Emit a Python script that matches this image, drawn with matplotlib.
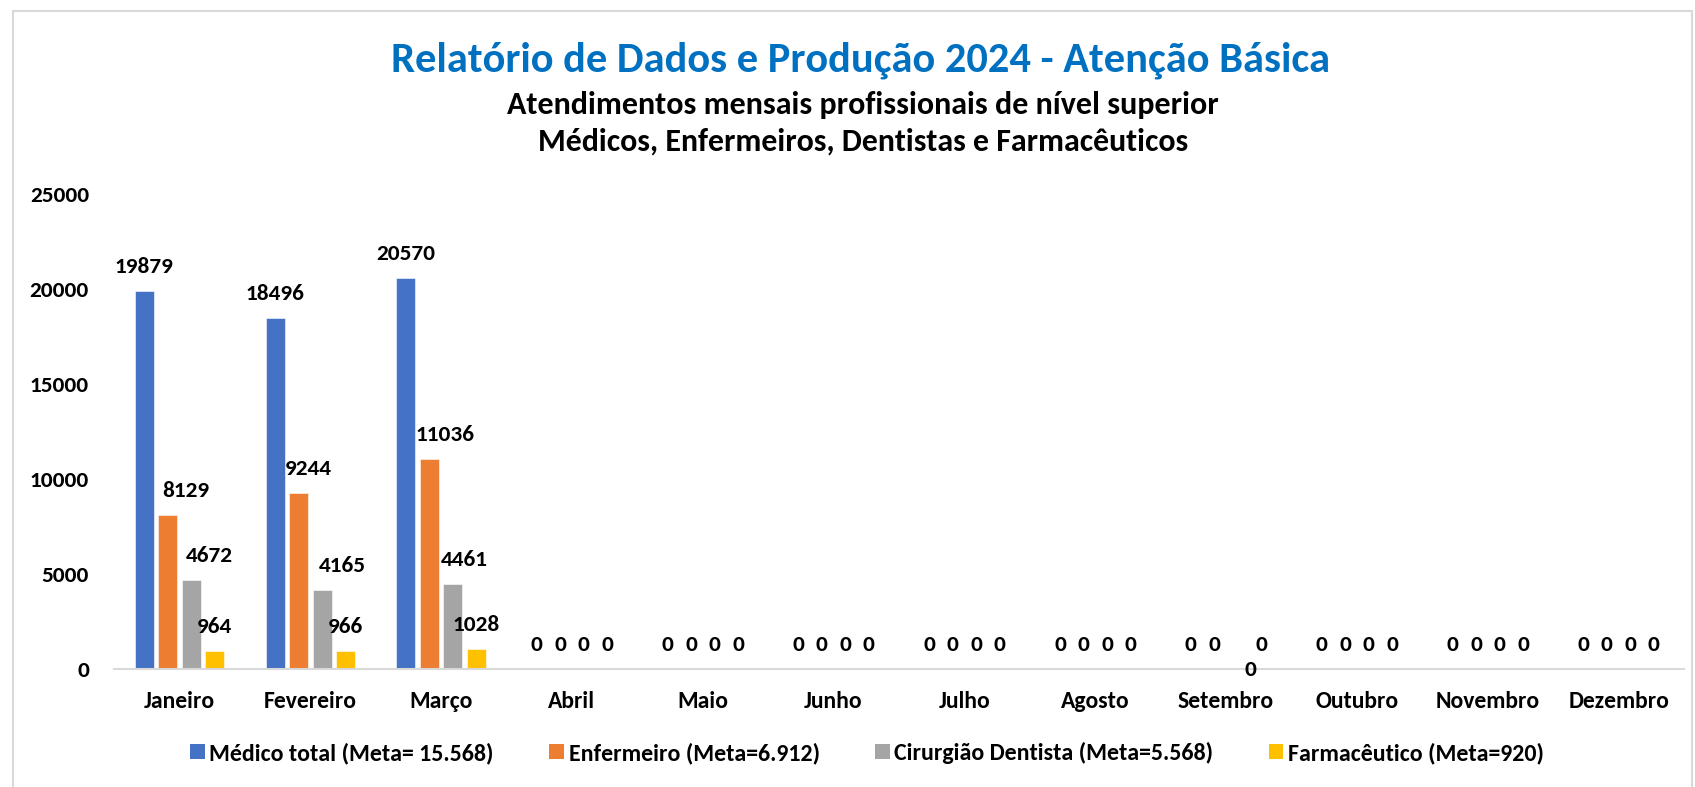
import matplotlib
matplotlib.use('Agg')
import matplotlib.pyplot as plt
from matplotlib.patches import Patch, Rectangle
from matplotlib import font_manager as fm
import numpy as np

# ---------------- data ----------------
months = ['Janeiro', 'Fevereiro', 'Março', 'Abril', 'Maio', 'Junho', 'Julho',
          'Agosto', 'Setembro', 'Outubro', 'Novembro', 'Dezembro']
medico = [19879, 18496, 20570, 0, 0, 0, 0, 0, 0, 0, 0, 0]
enfermeiro = [8129, 9244, 11036, 0, 0, 0, 0, 0, 0, 0, 0, 0]
dentista = [4672, 4165, 4461, 0, 0, 0, 0, 0, 0, 0, 0, 0]
farmaceutico = [964, 966, 1028, 0, 0, 0, 0, 0, 0, 0, 0, 0]
series_names = ['Médico total (Meta= 15.568)', 'Enfermeiro (Meta=6.912)',
                'Cirurgião Dentista (Meta=5.568)', 'Farmacêutico (Meta=920)']
colors = ['#4472C4', '#ED7D31', '#A5A5A5', '#FFC000']
yticks = [0, 5000, 10000, 15000, 20000, 25000]
title = 'Relatório de Dados e Produção 2024 - Atenção Básica'
subtitle1 = 'Atendimentos mensais profissionais de nível superior'
subtitle2 = 'Médicos, Enfermeiros, Dentistas e Farmacêuticos'

# ---------------- fonts ----------------
available = {f.name for f in fm.fontManager.ttflist}
font = next(f for f in ['Carlito', 'Lato', 'Open Sans', 'DejaVu Sans'] if f in available)
plt.rcParams['font.family'] = [font, 'DejaVu Sans']
WT = 'heavy'
plt.rcParams['font.weight'] = WT

W, H = 1695, 787
fig = plt.figure(figsize=(W / 100, H / 100), dpi=100)
renderer = fig.canvas.get_renderer()


def fx(px):
    return px / W


def fy(py):
    return 1 - py / H


def size_for(text, target_px, base=20):
    t = fig.text(0, 0, text, fontsize=base, fontweight=WT)
    w = t.get_window_extent(renderer).width
    t.remove()
    return base * target_px / w


digit_fs = size_for('25000', 59)
title_fs = size_for(title, 941)
sub1_fs = size_for(subtitle1, 710)
sub2_fs = size_for(subtitle2, 652)
xlab_fs = size_for('Setembro', 96)
leg_fs = size_for(series_names[0], 285)
PT = 0.72  # points per pixel at 100 dpi

# manual nudges of individual data labels (pixels), as placed in the original chart
label_nudge = {
    ('Janeiro', 1): (18, 0), ('Janeiro', 2): (18, 0),
    ('Fevereiro', 1): (10, 0), ('Fevereiro', 2): (20, 0),
    ('Março', 1): (16, 0), ('Março', 2): (12, 0),
    ('Setembro', 2): (13, -25),
}

# ---------------- axes ----------------
ax = fig.add_axes([fx(114), fy(669), fx(1684) - fx(114), (669 - 194) / H])
x = np.arange(len(months))
cat_px = (1684 - 114) / len(months)
slot = 23.5 / cat_px
bw = 19 / cat_px
series = [medico, enfermeiro, dentista, farmaceutico]

for i, (vals, name, col) in enumerate(zip(series, series_names, colors)):
    pos = x + (i - 1.5) * slot
    ax.bar(pos, vals, bw, color=col, label=name, edgecolor='white', linewidth=0.4)
    for j, (p, v) in enumerate(zip(pos, vals)):
        ndx, ndy = label_nudge.get((months[j], i), (0, 0))
        ax.annotate(f'{v}', (p, v), xytext=(ndx * PT, (26 + ndy) * PT),
                    textcoords='offset points', ha='center', va='center_baseline',
                    fontsize=digit_fs, fontweight=WT, color='black')

ax.set_xlim(-0.5, len(months) - 0.5)
ax.set_ylim(0, 25000)
ax.set_yticks(yticks)
ax.set_yticklabels([str(v) for v in yticks], fontsize=digit_fs, fontweight=WT)
ax.set_xticks(x)
ax.set_xticklabels(months, fontsize=xlab_fs, fontweight=WT)
ax.tick_params(axis='y', length=0, pad=25 * PT)
ax.tick_params(axis='x', length=0, pad=22 * PT)
for s in ['top', 'right', 'left']:
    ax.spines[s].set_visible(False)
ax.spines['bottom'].set_color('#D9D9D9')
ax.spines['bottom'].set_linewidth(1.5)
ax.set_facecolor('none')

# ---------------- titles ----------------
fig.text(fx(861), fy(60), title, ha='center', va='center', color='#0070C0',
         fontsize=title_fs, fontweight=WT)
fig.text(fx(863), fy(105), subtitle1, ha='center', va='center', color='black',
         fontsize=sub1_fs, fontweight=WT)
fig.text(fx(863), fy(142), subtitle2, ha='center', va='center', color='black',
         fontsize=sub2_fs, fontweight=WT)

# ---------------- legend ----------------
handles = [Patch(facecolor=c, edgecolor='none') for c in colors]
fig.legend(handles, series_names, loc='center', bbox_to_anchor=(fx(867), fy(753)),
           ncol=4, frameon=False, prop={'weight': WT, 'size': leg_fs},
           handlelength=0.62, handleheight=0.6, handletextpad=0.2, columnspacing=2.3)

# ---------------- frame ----------------
fig.add_artist(Rectangle((fx(13), -0.05), fx(1692) - fx(13), fy(11) + 0.05,
                         transform=fig.transFigure, fill=False,
                         edgecolor='#D9D9D9', linewidth=1.5))

fig.savefig('out.png', dpi=100)
